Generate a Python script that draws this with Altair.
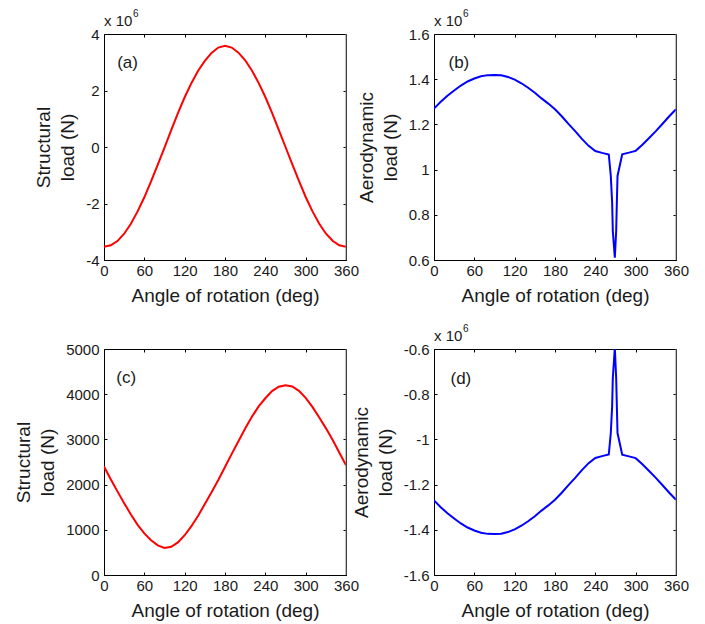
import altair as alt
import pandas as pd

# ---------------- data ----------------
angle_deg = list(range(0, 361, 10))
# panel (a) structural load, units of 1e6 N
structural_a = [-3.53, -3.48, -3.33, -3.07, -2.72, -2.28, -1.78, -1.22, -0.62, -0.02,
                0.60, 1.20, 1.76, 2.26, 2.70, 3.05, 3.33, 3.52, 3.58, 3.52,
                3.34, 3.07, 2.71, 2.27, 1.77, 1.21, 0.61, 0.00, -0.61, -1.20,
                -1.77, -2.27, -2.71, -3.06, -3.32, -3.48, -3.53]
# panel (c) structural load, N
structural_c = [2400, 2120, 1850, 1590, 1340, 1110, 920, 770, 655, 600,
                625, 720, 880, 1080, 1310, 1570, 1830, 2100, 2390, 2680,
                2960, 3240, 3500, 3730, 3910, 4070, 4165, 4200, 4170, 4075,
                3920, 3720, 3490, 3250, 2990, 2710, 2430]

angle_aero = [0, 10, 20, 30, 40, 50, 60, 70, 80, 90, 100, 110, 120, 130, 140, 150,
              160, 170, 180, 190, 200, 210, 220, 230, 240, 250, 260,
              263, 265, 266, 269, 271, 272, 273, 280,
              290, 300, 310, 320, 330, 340, 350, 360]
# panel (b) aerodynamic load, units of 1e6 N
aero_b = [1.270, 1.300, 1.327, 1.350, 1.372, 1.390, 1.403, 1.413, 1.418, 1.419,
          1.417, 1.410, 1.398, 1.382, 1.362, 1.340, 1.315, 1.292, 1.267, 1.236,
          1.202, 1.170, 1.136, 1.105, 1.082, 1.074, 1.067,
          0.972, 0.853, 0.728, 0.610, 0.728, 0.853, 0.972, 1.068,
          1.075, 1.083, 1.110, 1.140, 1.170, 1.203, 1.236, 1.267]
# panel (d) aerodynamic load, units of 1e6 N
aero_d = [-1.270, -1.300, -1.327, -1.350, -1.372, -1.390, -1.403, -1.413, -1.418, -1.419,
          -1.417, -1.410, -1.398, -1.382, -1.362, -1.340, -1.315, -1.292, -1.267, -1.236,
          -1.202, -1.170, -1.136, -1.105, -1.082, -1.074, -1.067,
          -0.972, -0.853, -0.728, -0.595, -0.728, -0.853, -0.972, -1.068,
          -1.075, -1.083, -1.110, -1.140, -1.170, -1.203, -1.236, -1.267]

x_ticks = [0, 60, 120, 180, 240, 300, 360]
y_ticks_a = [-4, -2, 0, 2, 4]
y_ticks_b = [0.6, 0.8, 1, 1.2, 1.4, 1.6]
y_ticks_c = [0, 1000, 2000, 3000, 4000, 5000]
y_ticks_d = [-1.6, -1.4, -1.2, -1, -0.8, -0.6]

x_title = "Angle of rotation (deg)"
y_title_struct = ["Structural", "load (N)"]
y_title_aero = ["Aerodynamic", "load (N)"]

panel_tags = ["(a)", "(b)", "(c)", "(d)"]
tag_x = [35, 37, 33, 40]
tag_y = [2.97, 1.47, 4360, -0.733]

FONT = "Liberation Sans"
TEXT = "#1a1a1a"
LABEL = "'' + datum.value"


def make_panel(angles, values, ydom, yticks, ytitle, color, tag, tx, ty, mult):
    df = pd.DataFrame({"angle": angles, "load": values})
    xs = alt.Scale(domain=[0, 360], nice=False, zero=False)
    ys = alt.Scale(domain=ydom, nice=False, zero=False)
    xaxis = alt.Axis(values=x_ticks, title=x_title, orient="bottom", offset=-3,
                     labelFlush=False, labelOverlap=False, labelPadding=3,
                     titlePadding=8, labelExpr=LABEL, grid=False)
    yaxis = alt.Axis(values=yticks, title=ytitle, orient="left", offset=-3,
                     labelPadding=5, titlePadding=8, labelExpr=LABEL,
                     labelOverlap=False, titleLineHeight=24, grid=False)
    line = alt.Chart(df).mark_line(color=color, strokeWidth=2, clip=True).encode(
        x=alt.X("angle:Q", scale=xs, axis=xaxis),
        y=alt.Y("load:Q", scale=ys, axis=yaxis),
    )
    tag_df = pd.DataFrame({"x": [tx], "y": [ty], "t": [tag]})
    tag_layer = alt.Chart(tag_df).mark_text(
        font=FONT, fontSize=17, color=TEXT, align="center", baseline="middle"
    ).encode(
        x=alt.X("x:Q", scale=xs,
                axis=alt.Axis(orient="top", values=x_ticks, labels=False, title=None,
                              offset=-3, grid=False)),
        y=alt.Y("y:Q", scale=ys,
                axis=alt.Axis(orient="right", values=yticks, labels=False, title=None,
                              offset=-3, grid=False)),
        text="t:N",
    )
    # right frame edge drawn lighter, as in the reference
    right_edge = alt.Chart(tag_df).mark_rule(color="#808080", strokeWidth=1).encode(
        x=alt.value(242), y=alt.value(0), y2=alt.value(226)
    )
    layers = [line, tag_layer, right_edge]
    if mult:
        m_df = pd.DataFrame({"t": ["x 10"], "e": ["6"]})
        base_txt = alt.Chart(m_df).mark_text(
            font=FONT, fontSize=15, color=TEXT, align="left", baseline="alphabetic"
        ).encode(x=alt.value(0), y=alt.value(-8), text="t:N")
        exp_txt = alt.Chart(m_df).mark_text(
            font=FONT, fontSize=10, color=TEXT, align="left", baseline="top"
        ).encode(x=alt.value(29), y=alt.value(-25), text="e:N")
        layers += [base_txt, exp_txt]
    return alt.layer(*layers).resolve_axis(x="independent", y="independent").properties(
        width=242, height=226
    )


pa = make_panel(angle_deg, structural_a, [-4, 4], y_ticks_a, y_title_struct, "#ff0000",
                panel_tags[0], tag_x[0], tag_y[0], True)
pb = make_panel(angle_aero, aero_b, [0.6, 1.6], y_ticks_b, y_title_aero, "#0000ff",
                panel_tags[1], tag_x[1], tag_y[1], True)
pc = make_panel(angle_deg, structural_c, [0, 5000], y_ticks_c, y_title_struct, "#ff0000",
                panel_tags[2], tag_x[2], tag_y[2], False)
pd_ = make_panel(angle_aero, aero_d, [-1.6, -0.6], y_ticks_d, y_title_aero, "#0000ff",
                 panel_tags[3], tag_x[3], tag_y[3], True)

chart = alt.concat(
    pa, pb, pc, pd_, columns=2, spacing={"row": 89, "column": 88}, bounds="flush",
).properties(
    padding={"left": 6, "top": 0, "right": 5, "bottom": 5},
    background="white",
).configure_view(
    stroke="#000000", strokeWidth=1
).configure_axis(
    labelFont=FONT, titleFont=FONT, labelFontSize=15, titleFontSize=19,
    titleFontWeight="normal", labelColor=TEXT, titleColor=TEXT,
    domain=False, grid=False, ticks=True, tickColor="#000000", tickSize=3, tickWidth=1,
)

chart.save("out.html", embed_options={"renderer": "svg", "actions": False})
